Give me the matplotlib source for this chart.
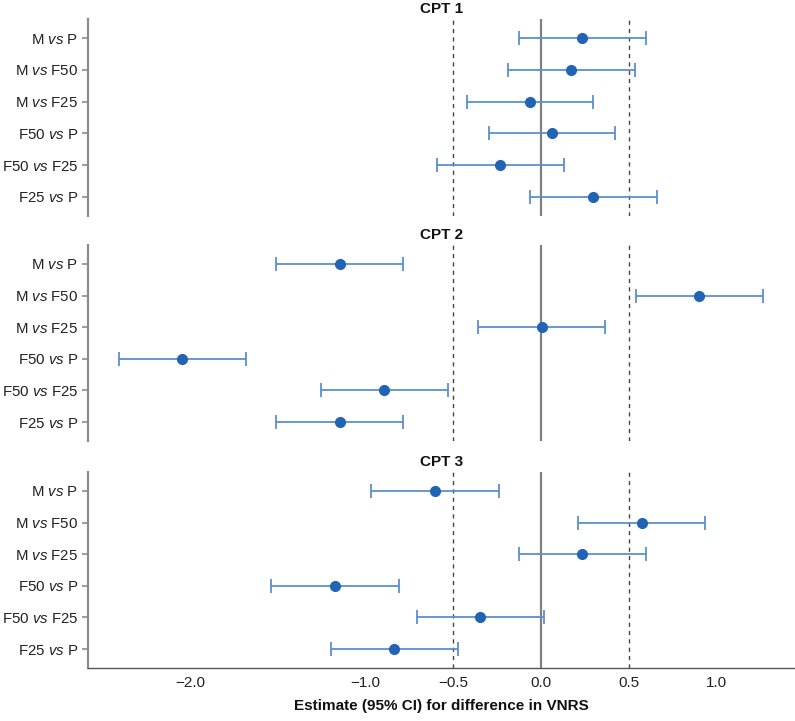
import matplotlib
matplotlib.use('Agg')
import matplotlib.pyplot as plt

plt.rcParams['font.family'] = ['Liberation Sans', 'DejaVu Sans']
plt.rcParams['mathtext.fontset'] = 'custom'
plt.rcParams['mathtext.rm'] = 'Liberation Sans'
plt.rcParams['mathtext.it'] = 'Liberation Sans:italic'

comparisons = ['M $\\it{vs}$ P', 'M $\\it{vs}$ F50', 'M $\\it{vs}$ F25',
               'F50 $\\it{vs}$ P', 'F50 $\\it{vs}$ F25', 'F25 $\\it{vs}$ P']
panel_titles = ['CPT 1', 'CPT 2', 'CPT 3']

cpt1_est = [0.235, 0.172, -0.064, 0.062, -0.233, 0.295]
cpt1_lo = [-0.126, -0.189, -0.424, -0.297, -0.594, -0.064]
cpt1_hi = [0.595, 0.533, 0.295, 0.423, 0.128, 0.658]

cpt2_est = [-1.148, 0.899, 0.003, -2.045, -0.894, -1.148]
cpt2_lo = [-1.509, 0.537, -0.360, -2.406, -1.256, -1.509]
cpt2_hi = [-0.787, 1.260, 0.364, -1.682, -0.531, -0.787]

cpt3_est = [-0.607, 0.573, 0.235, -1.175, -0.347, -0.839]
cpt3_lo = [-0.968, 0.212, -0.126, -1.536, -0.708, -1.199]
cpt3_hi = [-0.242, 0.933, 0.597, -0.812, 0.016, -0.476]

panels = [(cpt1_est, cpt1_lo, cpt1_hi),
          (cpt2_est, cpt2_lo, cpt2_hi),
          (cpt3_est, cpt3_lo, cpt3_hi)]

fig = plt.figure(figsize=(7.95, 7.21), dpi=100)
boxes = [(0.1107, 0.7004, 0.8893, 0.2732),
         (0.1107, 0.3883, 0.8893, 0.2719),
         (0.1107, 0.0735, 0.8893, 0.2719)]

spine_col = '#8c8c8c'
for i, (title, (est, lo, hi)) in enumerate(zip(panel_titles, panels)):
    ax = fig.add_axes(boxes[i])
    y = list(range(len(comparisons)))
    xerr = [[e - l for e, l in zip(est, lo)], [h - e for e, h in zip(est, hi)]]
    ax.axvline(0, color='#808080', lw=1.6, zorder=1)
    ax.axvline(-0.5, color='#444444', lw=1.0, ls=(0, (3, 3)), zorder=1)
    ax.axvline(0.5, color='#444444', lw=1.0, ls=(0, (3, 3)), zorder=1)
    ax.errorbar(est, y, xerr=xerr, fmt='o', color='#2164b5', ms=7,
                ecolor='#5a8fd2', elinewidth=1.3, capsize=5, capthick=1.3, zorder=3)
    ax.set_xlim(-2.58, 1.445)
    ax.set_ylim(5.6, -0.6)
    ax.set_yticks(y)
    ax.set_yticklabels(comparisons, fontsize=10.8, color='#222222')
    ax.tick_params(axis='y', length=4, color=spine_col, width=1.2, pad=3)
    ax.set_title(title, fontsize=11, fontweight='bold', pad=4, color='#111111')
    for s in ['top', 'right']:
        ax.spines[s].set_visible(False)
    ax.spines['left'].set_color(spine_col)
    ax.spines['left'].set_linewidth(1.6)
    if i < 2:
        ax.spines['bottom'].set_visible(False)
        ax.set_xticks([])
    else:
        ax.spines['bottom'].set_color('#555555')
        ax.spines['bottom'].set_linewidth(1.0)
        ax.set_xticks([-2.0, -1.0, -0.5, 0.0, 0.5, 1.0])
        ax.set_xticklabels(['\u22122.0', '\u22121.0', '\u22120.5', '0.0', '0.5', '1.0'],
                           fontsize=11, color='#222222')
        ax.tick_params(axis='x', length=0, pad=6)
        ax.set_xlabel('Estimate (95% CI) for difference in VNRS', fontsize=11,
                      fontweight='bold', labelpad=6, color='#111111')

fig.savefig('out.png', dpi=100)
